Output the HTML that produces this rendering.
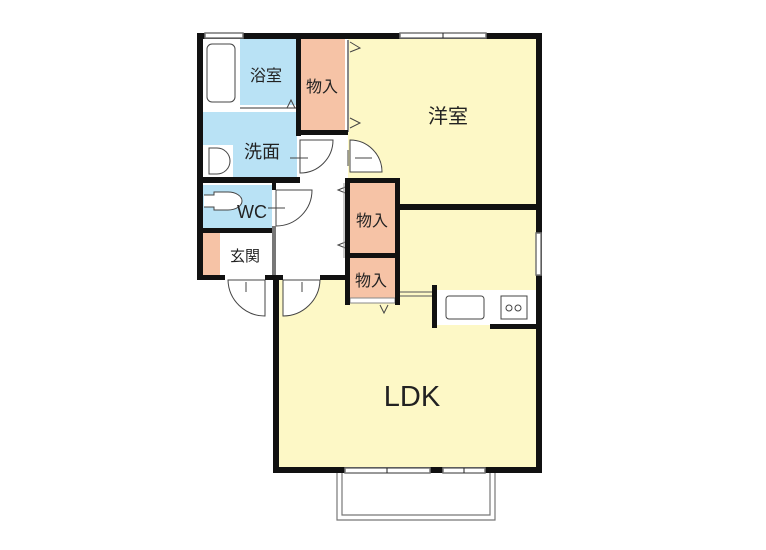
<!DOCTYPE html>
<html><head><meta charset="utf-8"><style>
html,body{margin:0;padding:0;background:#fff;width:766px;height:550px;overflow:hidden}
text{font-family:"Liberation Sans","Noto Sans CJK JP",sans-serif;fill:#222}
</style></head><body>
<svg width="766" height="550" viewBox="0 0 766 550" xmlns="http://www.w3.org/2000/svg">
<rect x="276" y="280" width="262" height="190" fill="#fdf8c6"/>
<rect x="348" y="38" width="190" height="168" fill="#fdf8c6"/>
<rect x="398" y="206" width="140" height="80" fill="#fdf8c6"/>
<rect x="276" y="135" width="70" height="143" fill="#fff"/>
<rect x="301" y="38" width="44" height="93" fill="#f6c3a6"/>
<rect x="350" y="183" width="45" height="70" fill="#f6c3a6"/>
<rect x="350" y="258" width="45" height="40" fill="#f6c3a6"/>
<rect x="203" y="233" width="17" height="43" fill="#f6c3a6"/>
<rect x="220" y="233" width="53" height="43" fill="#fff"/>
<rect x="240" y="38" width="56" height="67" fill="#b9e2f5"/>
<rect x="203" y="112" width="94" height="66" fill="#b9e2f5"/>
<rect x="203" y="185" width="69" height="43" fill="#b9e2f5"/>
<rect x="207" y="44" width="28" height="58" rx="5" fill="#fff" stroke="#444" stroke-width="1"/>
<line x1="240" y1="108" x2="296" y2="108" stroke="#999" stroke-width="2"/>
<path d="M287 108 L291 100 L295 108" fill="none" stroke="#444"/>
<rect x="203" y="145" width="30" height="32" fill="#fff"/>
<path d="M209 148 h8 a13 13 0 0 1 0 26 h-8 z" fill="#fff" stroke="#444"/>
<path d="M204 195 h10 v-3 h14 a14 9 0 0 1 0 18 h-14 v-3 h-10" fill="#fff" stroke="#444"/>
<rect x="437" y="290" width="99" height="35" fill="#fff"/>
<rect x="446" y="296" width="38" height="23" rx="3" fill="#fff" stroke="#444"/>
<rect x="501" y="296" width="26" height="23" fill="#fff" stroke="#444"/>
<circle cx="509" cy="308" r="3" fill="none" stroke="#444"/>
<circle cx="518" cy="308" r="3" fill="none" stroke="#444"/>
<line x1="400" y1="292" x2="433" y2="292" stroke="#555"/>
<line x1="400" y1="296" x2="433" y2="296" stroke="#555"/>
<g fill="#fff" stroke="#444" stroke-width="1">
<path d="M300 140 h33 a33 33 0 0 1 -33 33 z"/>
<path d="M350 140 a32 32 0 0 1 32 32 h-32 z"/>
<path d="M276 190 h36 a36 36 0 0 1 -36 36 z"/>
<path d="M228 280 h37 v36 a37 37 0 0 1 -37 -36 z"/>
<path d="M283 280 h37 a37 37 0 0 1 -37 36 z"/>
</g>
<g stroke="#444" stroke-width="1" fill="none">
<line x1="290" y1="158" x2="308" y2="158"/><line x1="355" y1="158" x2="372" y2="158"/><line x1="348" y1="150" x2="348" y2="166"/>
<line x1="268" y1="208" x2="285" y2="208"/>
<line x1="246" y1="282" x2="246" y2="292"/><line x1="302" y1="282" x2="302" y2="292"/>
<path d="M350 42 L360 48 L350 52"/><path d="M350 118 L360 123 L350 128"/>
<path d="M348 186 L338 190 L348 194"/><path d="M348 241 L338 245 L348 249"/>
<path d="M380 305 L384 313 L388 305"/>
</g>
<line x1="348" y1="40" x2="348" y2="132" stroke="#888" stroke-width="2"/>
<line x1="344" y1="183" x2="344" y2="258" stroke="#999"/>
<rect x="350" y="298" width="45" height="5" fill="#fff" stroke="#888" stroke-width="1"/>
<g fill="#111">
<rect x="197" y="33" width="345" height="6"/>
<rect x="197" y="33" width="6" height="247"/>
<rect x="536" y="33" width="6" height="440"/>
<rect x="273" y="467" width="269" height="6"/>
<rect x="273" y="275" width="6" height="198"/>
<rect x="197" y="275" width="28" height="5"/>
<rect x="265" y="275" width="18" height="5"/>
<rect x="320" y="275" width="30" height="5"/>
<rect x="296" y="33" width="5" height="103"/>
<rect x="296" y="130" width="52" height="5"/>
<rect x="197" y="105" width="6" height="7"/>
<rect x="197" y="177" width="103" height="6"/>
<rect x="272" y="183" width="4" height="7"/>
<rect x="197" y="228" width="79" height="5"/>
<rect x="272" y="226" width="4" height="49" fill="#777"/>
<rect x="345" y="178" width="55" height="5"/>
<rect x="345" y="178" width="5" height="127"/>
<rect x="395" y="178" width="5" height="127"/>
<rect x="345" y="253" width="55" height="5"/>
<rect x="395" y="204" width="146" height="6"/>
<rect x="432" y="285" width="5" height="43"/>
<rect x="490" y="324" width="50" height="5"/>
</g>
<g fill="#fff" stroke="#777" stroke-width="1.5">
<rect x="205" y="33" width="38" height="5"/>
<rect x="400" y="33" width="86" height="5"/>
<rect x="536" y="233" width="5" height="42"/>
<rect x="345" y="468" width="85" height="5"/>
<rect x="443" y="468" width="42" height="5"/>
</g>
<line x1="443" y1="33" x2="443" y2="38" stroke="#222"/>
<line x1="387" y1="468" x2="387" y2="473" stroke="#222"/>
<line x1="464" y1="468" x2="464" y2="473" stroke="#222"/>
<path d="M337 473 V520 H495 V473" fill="none" stroke="#777" stroke-width="1.2"/>
<path d="M342 473 V515 H490 V473" fill="none" stroke="#777" stroke-width="1.2"/>
<text x="266" y="81" font-size="16" text-anchor="middle">浴室</text>
<text x="322" y="92" font-size="16" text-anchor="middle">物入</text>
<text x="448" y="123" font-size="20" text-anchor="middle">洋室</text>
<text x="262" y="158" font-size="18" text-anchor="middle">洗面</text>
<text x="252" y="218" font-size="18" text-anchor="middle">WC</text>
<text x="245" y="261" font-size="15" text-anchor="middle">玄関</text>
<text x="372" y="226" font-size="16" text-anchor="middle">物入</text>
<text x="371" y="286" font-size="16" text-anchor="middle">物入</text>
<text x="412" y="406" font-size="29" text-anchor="middle">LDK</text>
</svg>
</body></html>
